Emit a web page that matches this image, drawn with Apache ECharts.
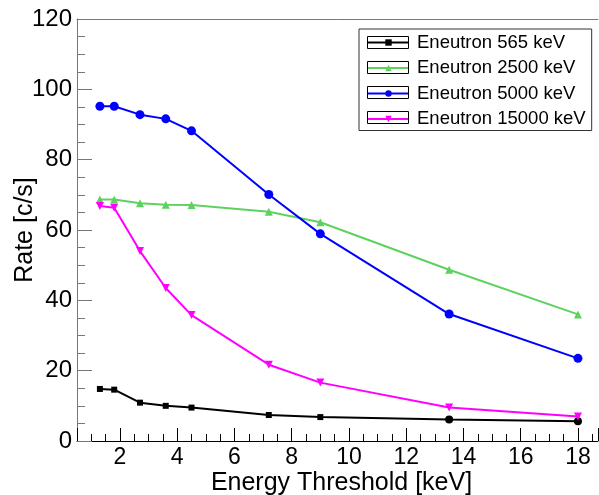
<!DOCTYPE html>
<html>
<head>
<meta charset="utf-8">
<script src="https://cdn.jsdelivr.net/npm/echarts@6/dist/echarts.min.js"></script>
<style>
    html, body { margin: 0; padding: 0; background: #fff; }
    #chart { width: 599px; height: 495px; }
</style>
</head>
<body>
<div id="chart"></div>
<script>
// ==================== 数据 ====================

// 能量阈值 (keV)
const thresholds = [1.3, 1.8, 2.7, 3.6, 4.5, 7.2, 9, 13.5, 18];

// 各中子能量下的计数率 (c/s)
const rate565 = [14.8, 14.6, 10.9, 10.0, 9.5, 7.4, 6.8, 6.1, 5.6];
const rate2500 = [68.7, 68.7, 67.6, 67.2, 67.1, 65.2, 62.2, 48.7, 36.0];
const rate5000 = [95.2, 95.2, 92.8, 91.6, 88.2, 70.1, 58.9, 36.1, 23.5];
const rate15000 = [66.8, 66.3, 54.0, 43.5, 35.8, 21.7, 16.6, 9.5, 7.0];

const seriesNames = [
    'Eneutron 565 keV',
    'Eneutron 2500 keV',
    'Eneutron 5000 keV',
    'Eneutron 15000 keV'
];

// ==================== 样式 ====================

const FONT = "'Liberation Sans', Arial, Helvetica, sans-serif";

const STYLE = [
    { color: '#000000', symbol: 'rect', size: 6 },
    { color: '#5ed25e', symbol: 'triangle', size: 8 },
    { color: '#0000ff', symbol: 'circle', size: 9 },
    { color: '#ff00ff', symbol: 'path://M0,0 L10,0 L5,9 Z', size: 8 }
];

// 图例布局 (rowH = 文字行高 = 字号; iconH 控制图例里标记的大小, boxH 为外框高度)
const LEGEND = {
    left: 359, top: 29,
    itemW: 41, iconH: 8, boxH: 12, rowH: 18.5, gap: 6.5,
    padT: 4, padR: 6, padB: 2, padL: 8
};

/**
 * 组装 [x, y] 数据点
 */
function toPoints(values, seriesIdx) {
    return values.map((v, i) => {
        const p = { value: [thresholds[i], v] };
        // 565 keV 的最后两个点在原图中画成圆点
        if (seriesIdx === 0 && i >= 7) {
            p.symbol = 'circle';
            p.symbolSize = 8;
        }
        return p;
    });
}

function buildSeries() {
    const all = [rate565, rate2500, rate5000, rate15000];
    return all.map((values, idx) => ({
        name: seriesNames[idx],
        type: 'line',
        data: toPoints(values, idx),
        symbol: STYLE[idx].symbol,
        symbolSize: STYLE[idx].size,
        showAllSymbol: true,
        lineStyle: { color: STYLE[idx].color, width: 2 },
        itemStyle: { color: STYLE[idx].color },
        emphasis: { disabled: true },
        animation: false,
        z: 3 + idx
    }));
}

// 图例中每个样例外的黑框
function legendBoxes() {
    return seriesNames.map((_, i) => ({
        type: 'rect',
        z: 100,
        shape: {
            x: LEGEND.left + LEGEND.padL + 0.5,
            y: Math.round(LEGEND.top + LEGEND.padT + i * (LEGEND.rowH + LEGEND.gap)
                + (LEGEND.rowH - LEGEND.boxH) / 2) + 0.5,
            width: LEGEND.itemW,
            height: LEGEND.boxH
        },
        style: { fill: 'none', stroke: '#000', lineWidth: 1 }
    }));
}

// ==================== 初始化 ====================

const chart = echarts.init(document.getElementById('chart'), null, { renderer: 'canvas' });

const option = {
    animation: false,
    backgroundColor: '#fff',
    textStyle: { fontFamily: FONT },
    grid: {
        left: 77, right: 1, top: 19, bottom: 54,
        containLabel: false,
        outerBoundsMode: 'none'
    },
    legend: {
        orient: 'vertical',
        left: LEGEND.left,
        top: LEGEND.top,
        padding: [LEGEND.padT, LEGEND.padR, LEGEND.padB, LEGEND.padL],
        itemWidth: LEGEND.itemW,
        itemHeight: LEGEND.iconH,
        itemGap: LEGEND.gap,
        borderColor: '#333',
        borderWidth: 1,
        backgroundColor: '#fff',
        selectedMode: false,
        textStyle: {
            fontFamily: FONT,
            fontSize: 18.5,
            color: '#000',
            lineHeight: LEGEND.rowH,
            padding: [0, 0, 0, 3]
        },
        data: seriesNames
    },
    xAxis: [
        {
            type: 'value',
            min: 0.5,
            max: 18.7,
            splitNumber: 9,
            name: 'Energy Threshold [keV]',
            nameLocation: 'middle',
            nameGap: 30,
            nameMoveOverlap: false,
            nameTextStyle: {
                fontFamily: FONT, fontSize: 25, color: '#000',
                padding: [0, 0, 0, 8]
            },
            axisLine: { show: true, lineStyle: { color: '#000', width: 1 } },
            axisTick: { show: true, inside: true, length: 13, lineStyle: { color: '#000' } },
            minorTick: { show: true, splitNumber: 4, length: 7, lineStyle: { color: '#000' } },
            axisLabel: {
                fontFamily: FONT,
                fontSize: 23,
                color: '#000',
                margin: 5,
                showMinLabel: false,
                showMaxLabel: false
            },
            splitLine: { show: false }
        },
        {
            // 顶部边框线
            type: 'value',
            position: 'top',
            min: 0.5,
            max: 18.7,
            axisLine: { show: true, lineStyle: { color: '#777', width: 1 } },
            axisTick: { show: false },
            axisLabel: { show: false },
            splitLine: { show: false }
        }
    ],
    yAxis: {
        type: 'value',
        min: 0,
        max: 120,
        interval: 20,
        name: 'Rate [c/s]',
        nameLocation: 'middle',
        nameGap: 39,
        nameMoveOverlap: false,
        nameTextStyle: { fontFamily: FONT, fontSize: 25, color: '#000' },
        axisLine: { show: true, lineStyle: { color: '#777', width: 1 } },
        axisTick: { show: true, inside: true, length: 15, lineStyle: { color: '#777' } },
        minorTick: { show: true, splitNumber: 4, length: 8, lineStyle: { color: '#777' } },
        axisLabel: { fontFamily: FONT, fontSize: 24, color: '#000', margin: 5 },
        splitLine: { show: false }
    },
    graphic: legendBoxes(),
    series: buildSeries()
};

chart.setOption(option);
</script>
</body>
</html>
